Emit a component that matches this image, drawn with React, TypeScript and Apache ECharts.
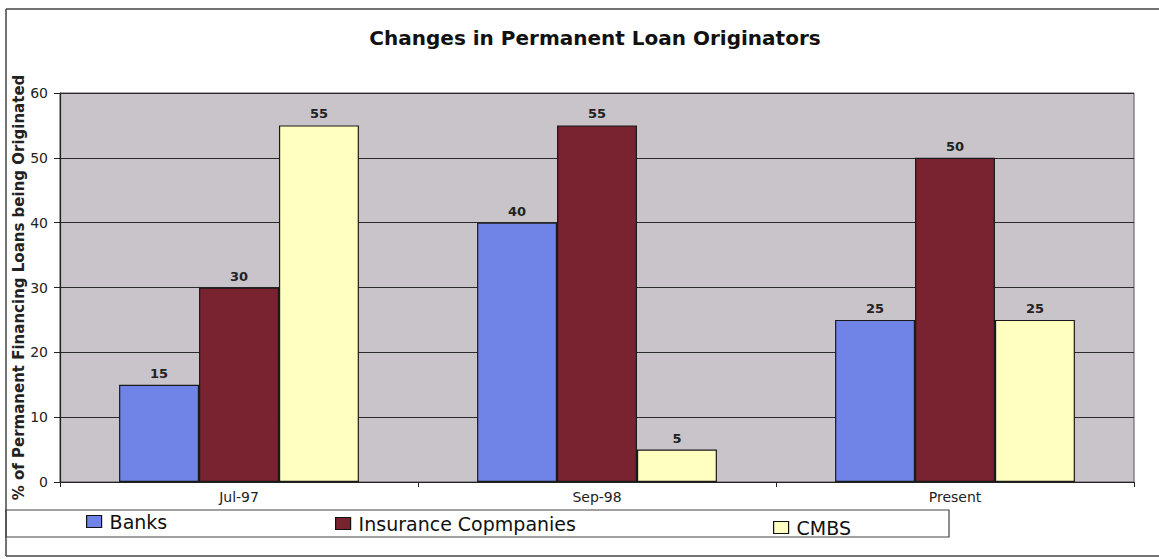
import React, { useEffect, useRef } from "react";
import * as echarts from "echarts";

const categories = ["Jul-97", "Sep-98", "Present"];
const banks = [15, 40, 25];
const insurance = [30, 55, 50];
const cmbs = [55, 5, 25];
const seriesNames = ["Banks", "Insurance Copmpanies", "CMBS"];
const seriesColors = ["#6f84e6", "#7a2330", "#ffffc0"];
const titleText = "Changes in Permanent Loan Originators";
const yAxisName = "% of Permanent Financing Loans being Originated";

export default function App() {
  const ref = useRef<HTMLDivElement>(null);
  useEffect(() => {
    if (!ref.current) return;
    const chart = echarts.init(ref.current, null, { renderer: "svg" });
    const font = "DejaVu Sans, Liberation Sans, Arial, sans-serif";
    const values = [banks, insurance, cmbs];
    const legendLeft = [86, 335, 773];
    const legendTop = [512, 514, 518];
    chart.setOption({
      animation: false,
      backgroundColor: "#ffffff",
      title: {
        text: titleText,
        left: 590,
        top: 23,
        textAlign: "center",
        textStyle: { fontFamily: font, fontWeight: "bold", fontSize: 20, color: "#111" },
      },
      legend: seriesNames.map((n, i) => ({
        data: [n],
        left: legendLeft[i],
        top: legendTop[i],
        orient: "horizontal",
        itemWidth: 15,
        itemHeight: 12,
        icon: "rect",
        itemStyle: { borderColor: "#111", borderWidth: 1.2 },
        textStyle: { fontFamily: font, fontSize: 19, color: "#111", padding: [0, 0, 0, 3] },
        padding: 0,
        selectedMode: false,
      })),
      grid: {
        left: 60,
        right: 25,
        top: 93,
        bottom: 77,
        containLabel: false,
        outerBoundsMode: "none",
        show: true,
        backgroundColor: "#c8c4ca",
        borderColor: "#555",
        borderWidth: 1,
      },
      xAxis: {
        type: "category",
        data: categories,
        axisLine: { show: true, lineStyle: { color: "#222", width: 1.2 } },
        axisTick: { show: true, length: 5, alignWithLabel: false, lineStyle: { color: "#222" } },
        axisLabel: { fontFamily: font, fontSize: 14, color: "#222", margin: 8 },
      },
      yAxis: {
        type: "value",
        min: 0,
        max: 60,
        interval: 10,
        name: yAxisName,
        nameLocation: "middle",
        nameRotate: 90,
        nameGap: 34,
        nameMoveOverlap: false,
        nameTextStyle: { fontFamily: font, fontWeight: "bold", fontSize: 15, color: "#222" },
        axisLine: { show: true, lineStyle: { color: "#222", width: 1.2 } },
        axisTick: { show: true, length: 6, lineStyle: { color: "#222" } },
        axisLabel: { fontFamily: font, fontSize: 14, color: "#222", margin: 12 },
        splitLine: { show: true, lineStyle: { color: "#2a2a2a", width: 1.2 } },
      },
      series: seriesNames.map((n, i) => ({
        name: n,
        type: "bar",
        data: values[i],
        barGap: "0%",
        barCategoryGap: "33%",
        itemStyle: { color: seriesColors[i], borderColor: "#1a1a1a", borderWidth: 1.2 },
        label: {
          show: true,
          position: "top",
          distance: 5,
          fontFamily: font,
          fontWeight: "bold",
          fontSize: 13,
          color: "#222",
        },
      })),
      graphic: [
        { type: "line", shape: { x1: 6, y1: 9, x2: 1159, y2: 9 }, style: { stroke: "#444", lineWidth: 1.5 } },
        { type: "line", shape: { x1: 6, y1: 9, x2: 6, y2: 556 }, style: { stroke: "#444", lineWidth: 1.5 } },
        { type: "line", shape: { x1: 6, y1: 556, x2: 1159, y2: 556 }, style: { stroke: "#444", lineWidth: 1.5 } },
        { type: "rect", shape: { x: 6, y: 510, width: 943, height: 27 }, style: { fill: "none", stroke: "#444", lineWidth: 1.2 } },
      ],
    });
    return () => chart.dispose();
  }, []);
  return (
    <div
      ref={ref}
      style={{ position: "fixed", left: 0, top: 0, width: 1159, height: 559, background: "#fff" }}
    />
  );
}
